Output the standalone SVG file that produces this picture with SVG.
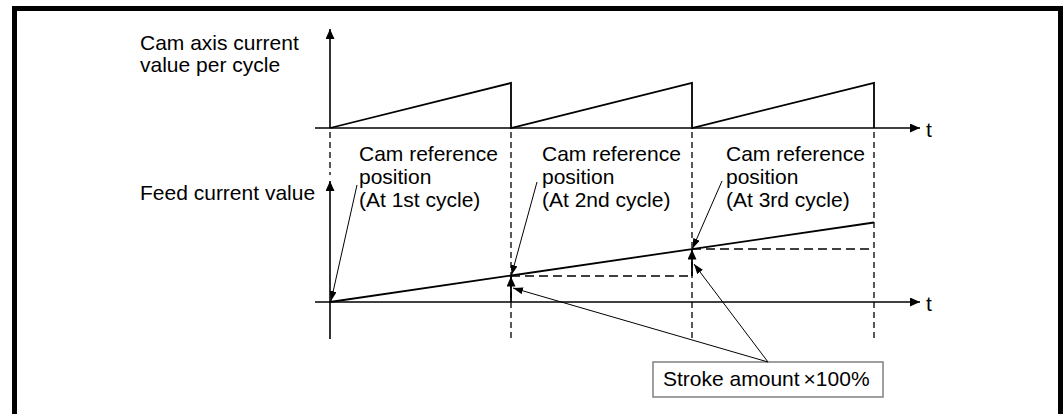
<svg xmlns="http://www.w3.org/2000/svg" width="1064" height="414" viewBox="0 0 1064 414">
  <style>
    text { font-family: "Liberation Sans", Arial, sans-serif; font-size: 21px; fill: #000; }
    .axis { stroke: #000; stroke-width: 1.6; fill: none; }
    .curve { stroke: #000; stroke-width: 1.8; fill: none; }
    .dash { stroke: #000; stroke-width: 1.3; fill: none; stroke-dasharray: 6 4; }
    .hdash { stroke: #000; stroke-width: 1.3; fill: none; stroke-dasharray: 9 5; }
    .leader { stroke: #000; stroke-width: 1; fill: none; }
  </style>
  <defs>
    <marker id="ah" markerUnits="userSpaceOnUse" markerWidth="11" markerHeight="10" refX="10" refY="4.5" orient="auto">
      <path d="M0,0 L10,4.5 L0,9 z" fill="#000"/>
    </marker>
    <marker id="lh" markerUnits="userSpaceOnUse" markerWidth="11" markerHeight="8" refX="10" refY="3.5" orient="auto">
      <path d="M0,0 L10,3.5 L0,7 z" fill="#000"/>
    </marker>
  </defs>

  <rect id="frame" x="14.5" y="8.5" width="1046" height="420" fill="#fff" stroke="#000" stroke-width="5"/>

  <g id="upper-chart">
    <line class="axis" x1="330" y1="128" x2="330" y2="29" marker-end="url(#ah)"/>
    <line class="axis" x1="315" y1="128" x2="920" y2="128" marker-end="url(#ah)"/>
    <text x="926" y="136.5">t</text>
    <polyline class="curve" points="330,128 511,83 511,128 692,83 692,128 874,83 874,128"/>
    <text x="140" y="50">Cam axis current</text>
    <text x="140" y="72">value per cycle</text>
  </g>

  <g id="lower-chart">
    <line class="axis" x1="330" y1="339" x2="330" y2="181" marker-end="url(#ah)"/>
    <line class="axis" x1="315" y1="302" x2="920" y2="302" marker-end="url(#ah)"/>
    <text x="926" y="310.5">t</text>
    <line class="curve" x1="330" y1="302" x2="874" y2="222.5"/>
    <text x="140" y="200">Feed current value</text>
  </g>

  <g id="guides">
    <line class="dash" x1="330" y1="132" x2="330" y2="175"/>
    <line class="dash" x1="511" y1="132" x2="511" y2="339"/>
    <line class="dash" x1="692" y1="132" x2="692" y2="339"/>
    <line class="dash" x1="874" y1="132" x2="874" y2="339"/>
    <line class="hdash" x1="511" y1="276" x2="692" y2="276"/>
    <line class="hdash" x1="692" y1="249" x2="874" y2="249"/>
  </g>

  <g id="label-1st">
    <text x="359" y="161">Cam reference</text>
    <text x="359" y="184">position</text>
    <text x="359" y="207">(At 1st cycle)</text>
  </g>
  <g id="label-2nd">
    <text x="542" y="161">Cam reference</text>
    <text x="542" y="184">position</text>
    <text x="542" y="207">(At 2nd cycle)</text>
  </g>
  <g id="label-3rd">
    <text x="726" y="161">Cam reference</text>
    <text x="726" y="184">position</text>
    <text x="726" y="207">(At 3rd cycle)</text>
  </g>

  <g id="stroke-box">
    <rect x="653" y="362" width="230" height="35" fill="#fff" stroke="#808080" stroke-width="1.5"/>
    <text x="663" y="386">Stroke amount<tspan dx="4">×100%</tspan></text>
  </g>

  <g id="connectors">
    <line class="leader" x1="357" y1="185" x2="331" y2="301" marker-end="url(#lh)"/>
    <line class="leader" x1="537" y1="182" x2="511.5" y2="275" marker-end="url(#lh)"/>
    <line class="leader" x1="722" y1="181" x2="692.5" y2="248.5" marker-end="url(#lh)"/>
    <line class="leader" x1="768" y1="362" x2="513" y2="288" marker-end="url(#lh)"/>
    <line class="leader" x1="768" y1="362" x2="694" y2="264" marker-end="url(#lh)"/>
    <line class="curve" x1="511" y1="302" x2="511" y2="276.5" marker-end="url(#ah)"/>
    <line class="curve" x1="692" y1="276" x2="692" y2="249.5" marker-end="url(#ah)"/>
  </g>
</svg>
